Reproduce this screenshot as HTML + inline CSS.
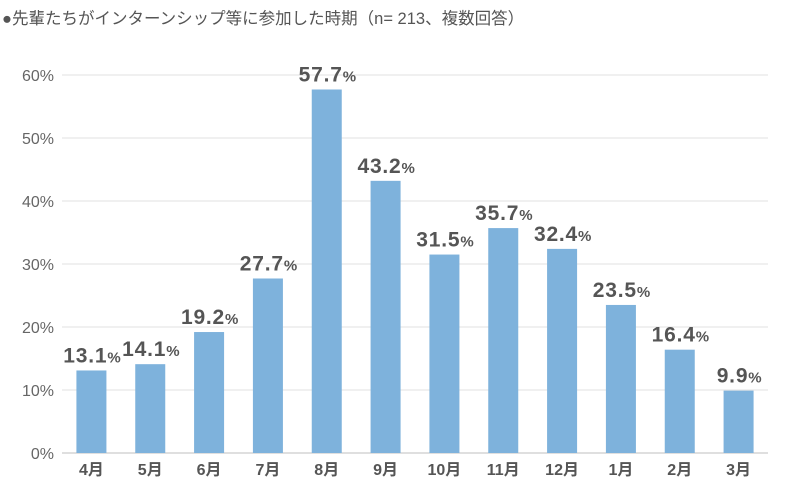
<!DOCTYPE html>
<html><head><meta charset="utf-8"><style>
body{margin:0;background:#fff;}
svg{display:block;font-family:"Liberation Sans","Noto Sans CJK JP",sans-serif;}
</style></head><body>
<svg id="c" width="800" height="495">
<text x="2" y="24" font-size="16.5" fill="#555">●先輩たちがインターンシップ等に参加した時期（n= 213、複数回答）</text>
<g id="grid"></g><g id="bars"></g><g id="labels"></g>
</svg>
<script>
const categories=["4月","5月","6月","7月","8月","9月","10月","11月","12月","1月","2月","3月"];
const values=[13.1,14.1,19.2,27.7,57.7,43.2,31.5,35.7,32.4,23.5,16.4,9.9];
const yTicks=[0,10,20,30,40,50,60];
const NS="http://www.w3.org/2000/svg";
const x0=62,x1=768,yBase=453,yTop=75,yMax=60;
const y=v=>yBase-(v/yMax)*(yBase-yTop);
const step=(x1-x0)/categories.length;
const xc=i=>x0+step*(i+0.5);
function mk(t,a,p){const e=document.createElementNS(NS,t);for(const k in a)e.setAttribute(k,a[k]);p.appendChild(e);return e;}
const grid=document.getElementById('grid'),bars=document.getElementById('bars'),labels=document.getElementById('labels');
yTicks.forEach(t=>{
 const l=mk('line',{x1:x0,x2:x1,y1:y(t),y2:y(t),stroke:t===0?'#bfbfbf':'#e0e0e0','stroke-width':1},grid);
 
 
 const tx=mk('text',{x:54,y:y(t)+6,'text-anchor':'end','font-size':16,fill:'#666'},grid);
 tx.textContent=t+'%';
 
 
});
values.forEach((v,i)=>{
 const r=mk('rect',{x:xc(i)-15,y:y(v),width:30,height:yBase-y(v),fill:'#7eb2dc'},bars);
 
 
 const t=mk('text',{x:xc(i)+1,y:y(v)-8,'text-anchor':'middle','font-size':21,'font-weight':'bold',fill:'#555','letter-spacing':0.8},labels);
 t.innerHTML=v.toFixed(1)+'<tspan font-size="15">%</tspan>';
 
 
 const c=mk('text',{x:xc(i),y:475,'text-anchor':'middle','font-size':16,'font-weight':'bold',fill:'#555'},labels);
 c.textContent=categories[i];
 
 
});
</script>
</body></html>
